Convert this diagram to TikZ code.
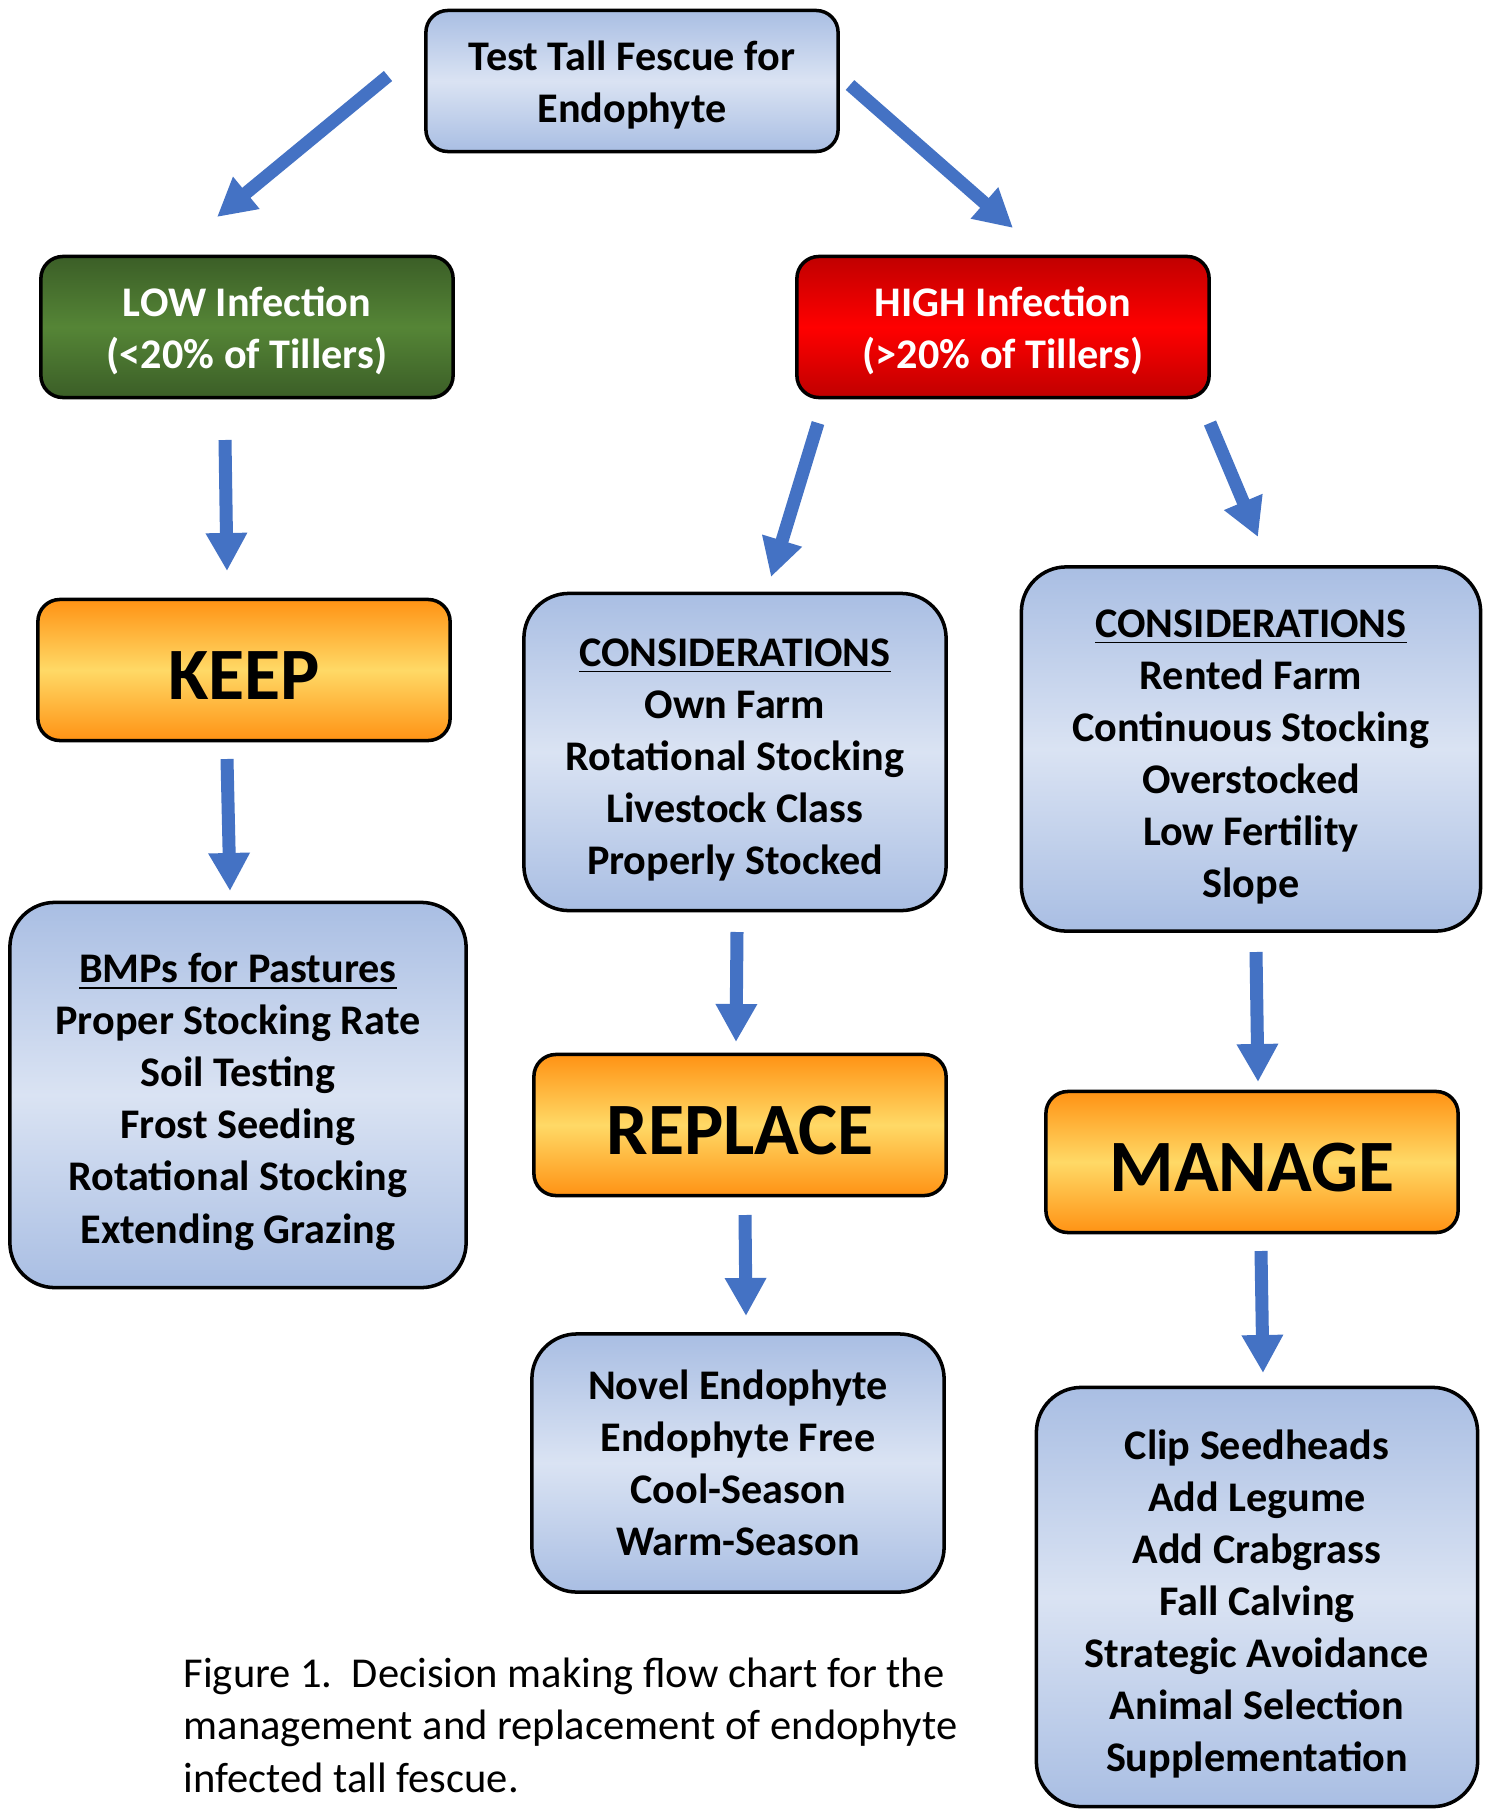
\documentclass[tikz,border=0pt]{standalone}
\usepackage{fontspec}
\setmainfont{Carlito}
\usetikzlibrary{arrows.meta}
\definecolor{blueedge}{HTML}{A9BEE3}
\definecolor{bluemid}{HTML}{DAE3F3}
\definecolor{greenedge}{HTML}{3B5E27}
\definecolor{greenmid}{HTML}{558536}
\definecolor{rededge}{HTML}{C00000}
\definecolor{redmid}{HTML}{FF0000}
\definecolor{orangeedge}{HTML}{FF9214}
\definecolor{orangemid}{HTML}{FFD966}
\definecolor{arrowblue}{HTML}{4472C4}
\newcommand{\boxstrut}{\rule{0pt}{12.2pt}}
\newcommand{\smallstrut}{\rule{0pt}{10.6pt}}
\begin{document}
\begin{tikzpicture}[x=0.01cm, y=-0.01cm,
    box/.style={draw=black, line width=1pt, inner sep=0pt, align=center,
        font=\fontsize{12}{14.8}\selectfont\bfseries},
    smallbox/.style={box, rounded corners=0.22cm, minimum width=4.12cm, minimum height=1.41cm},
    bigbox/.style={box, rounded corners=0.45cm},
    bluefill/.style={top color=blueedge, bottom color=blueedge, middle color=bluemid},
    greenfill/.style={top color=greenedge, bottom color=greenedge, middle color=greenmid, text=white},
    redfill/.style={top color=rededge, bottom color=rededge, middle color=redmid, text=white},
    actionbox/.style={smallbox, top color=orangeedge, bottom color=orangeedge, middle color=orangemid,
        font=\fontsize{21}{25}\selectfont\bfseries,
        execute at begin node={\rule{0pt}{17pt}}},
    flow/.style={draw=arrowblue, line width=0.13cm, -{Triangle[width=0.39cm,length=0.38cm]}}]
    \useasboundingbox (0,0) rectangle (1493,1809);
    \fill[white] (0,0) rectangle (1493,1809);
    % boxes
    \node[smallbox, bluefill] (test) at (632,81) {\smallstrut Test Tall Fescue for\\Endophyte};
    \node[smallbox, greenfill] (low) at (247,327) {\smallstrut LOW Infection\\(<20\% of Tillers)};
    \node[smallbox, redfill] (high) at (1003,327) {\smallstrut HIGH Infection\\(>20\% of Tillers)};
    \node[actionbox] (keep) at (244,670) {KEEP};
    \node[bigbox, bluefill, minimum width=4.22cm, minimum height=3.17cm] (consown) at (735,752)
        {\boxstrut\underline{CONSIDERATIONS}\\Own Farm\\Rotational Stocking\\Livestock Class\\Properly Stocked};
    \node[bigbox, bluefill, minimum width=4.59cm, minimum height=3.64cm] (consrent) at (1251,749)
        {\boxstrut\underline{CONSIDERATIONS}\\Rented Farm\\Continuous Stocking\\Overstocked\\Low Fertility\\Slope};
    \node[bigbox, bluefill, minimum width=4.56cm, minimum height=3.85cm] (bmps) at (238,1095)
        {\boxstrut\underline{BMPs for Pastures}\\Proper Stocking Rate\\Soil Testing\\Frost Seeding\\Rotational Stocking\\Extending Grazing};
    \node[actionbox] (replace) at (740,1125) {REPLACE};
    \node[actionbox] (manage) at (1252,1162) {MANAGE};
    \node[bigbox, bluefill, minimum width=4.12cm, minimum height=2.58cm] (novel) at (738,1463)
        {Novel Endophyte\\Endophyte Free\\Cool-Season\\Warm-Season};
    \node[bigbox, bluefill, minimum width=4.41cm, minimum height=4.19cm] (tactics) at (1257,1597)
        {\boxstrut Clip Seedheads\\Add Legume\\Add Crabgrass\\Fall Calving\\Strategic Avoidance\\Animal Selection\\Supplementation};
    % caption
    \node[anchor=base west, align=left, inner sep=0pt, font=\fontsize{12.1}{14.8}\selectfont] (caption) at (183,1792)
        {Figure 1.\ \ Decision making flow chart for the\\management and replacement of endophyte\\infected tall fescue.};
    % arrow ends
    \coordinate (t1s) at (388,76);   \coordinate (t1e) at (217,217);
    \coordinate (t2s) at (850,85);   \coordinate (t2e) at (1013,228);
    \coordinate (l1s) at (225,440);  \coordinate (l1e) at (227,571);
    \coordinate (k1s) at (227,759);  \coordinate (k1e) at (230,891);
    \coordinate (h1s) at (818,423);  \coordinate (h1e) at (771,577);
    \coordinate (h2s) at (1210,423); \coordinate (h2e) at (1258,537);
    \coordinate (c1s) at (737,932);  \coordinate (c1e) at (736,1042);
    \coordinate (r1s) at (745,1215); \coordinate (r1e) at (746,1316);
    \coordinate (c2s) at (1256,952); \coordinate (c2e) at (1258,1082);
    \coordinate (m1s) at (1261,1251); \coordinate (m1e) at (1263,1373);
    % arrows
    \draw[flow] (t1s) -- (t1e);
    \draw[flow] (t2s) -- (t2e);
    \draw[flow] (l1s) -- (l1e);
    \draw[flow] (k1s) -- (k1e);
    \draw[flow] (h1s) -- (h1e);
    \draw[flow] (h2s) -- (h2e);
    \draw[flow] (c1s) -- (c1e);
    \draw[flow] (r1s) -- (r1e);
    \draw[flow] (c2s) -- (c2e);
    \draw[flow] (m1s) -- (m1e);
\end{tikzpicture}
\end{document}
